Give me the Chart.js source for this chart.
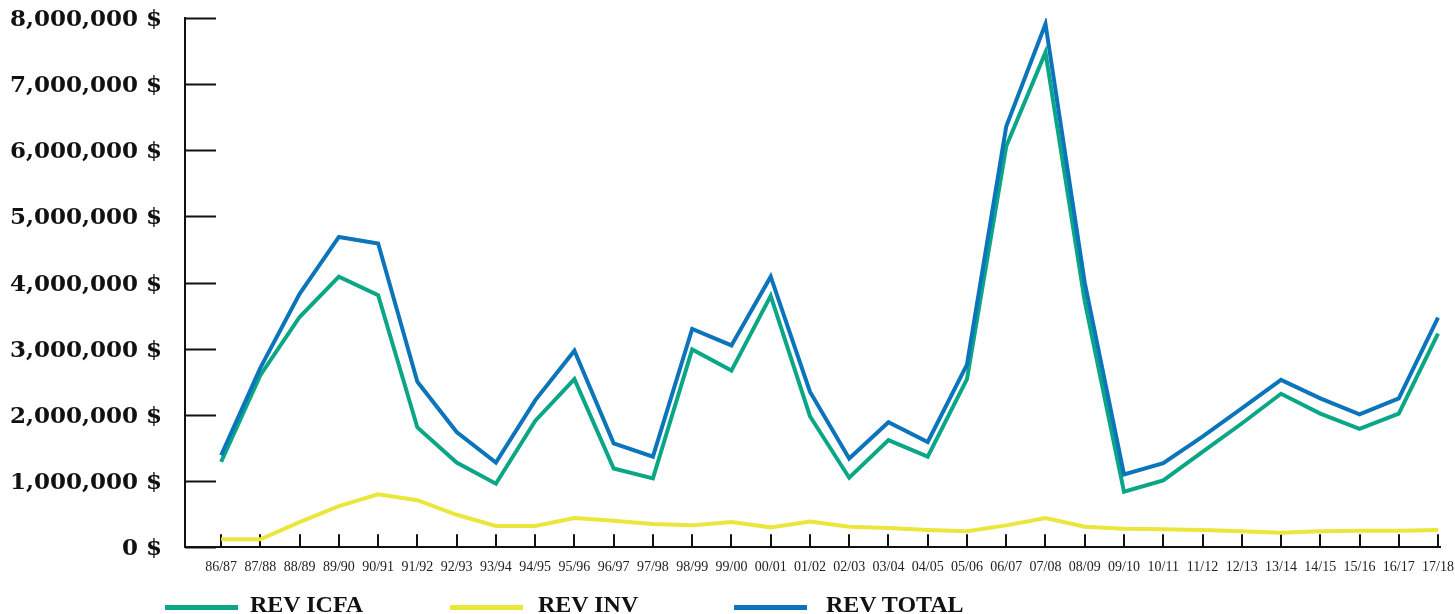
<!DOCTYPE html>
<html>
<head>
<meta charset="utf-8">
<script src="https://cdn.jsdelivr.net/npm/chart.js@4.4.1/dist/chart.umd.min.js"></script>
<style>
    html, body { margin: 0; padding: 0; background: #fff; }
    #wrap { position: relative; width: 1455px; height: 614px; overflow: hidden; }
    #legend { position: absolute; left: 0; top: 0; width: 1455px; height: 614px; pointer-events: none; }
    .swatch { position: absolute; top: 605px; width: 73px; height: 5px; }
    .label { position: absolute; top: 590px; font: bold 24px "Liberation Serif", serif; color: #111; line-height: 28px; white-space: nowrap; }
</style>
</head>
<body>
<div id="wrap">
    <canvas id="chart" width="1455" height="614"></canvas>
    <div id="legend"></div>
</div>
<script>
const seasons = ['86/87', '87/88', '88/89', '89/90', '90/91', '91/92', '92/93', '93/94', '94/95', '95/96',
    '96/97', '97/98', '98/99', '99/00', '00/01', '01/02', '02/03', '03/04', '04/05', '05/06',
    '06/07', '07/08', '08/09', '09/10', '10/11', '11/12', '12/13', '13/14', '14/15', '15/16',
    '16/17', '17/18'];

const revIcfa = [1290000, 2600000, 3480000, 4090000, 3810000, 1810000, 1280000, 960000, 1910000, 2540000,
    1190000, 1040000, 2990000, 2670000, 3800000, 1980000, 1050000, 1620000, 1370000, 2540000,
    6060000, 7480000, 3720000, 840000, 1010000, 1440000, 1870000, 2320000, 2020000, 1790000,
    2020000, 3230000];

const revInv = [120000, 120000, 380000, 620000, 800000, 710000, 490000, 320000, 320000, 440000,
    400000, 350000, 330000, 380000, 300000, 390000, 310000, 290000, 260000, 240000,
    330000, 440000, 310000, 280000, 270000, 260000, 240000, 220000, 240000, 250000,
    250000, 260000];

const revTotal = [1390000, 2710000, 3830000, 4690000, 4590000, 2500000, 1740000, 1280000, 2220000, 2970000,
    1570000, 1370000, 3300000, 3050000, 4090000, 2350000, 1340000, 1890000, 1590000, 2760000,
    6360000, 7910000, 4000000, 1100000, 1270000, 1670000, 2100000, 2530000, 2250000, 2010000,
    2250000, 3470000];

const seriesNames = ['REV ICFA', 'REV INV', 'REV TOTAL'];
const seriesColors = ['#0aa686', '#ebe63c', '#0b74ba'];

const yTicks = [0, 1000000, 2000000, 3000000, 4000000, 5000000, 6000000, 7000000, 8000000];

// x/y pairs so the first season can sit a bit in from the y axis
const toPoints = arr => arr.map((v, i) => ({ x: i, y: v }));

const fmtMoney = v => String(v).replace(/\B(?=(\d{3})+(?!\d))/g, ',') + ' $';

// short tick marks drawn inside the plot, like the original
const innerTicks = {
    id: 'innerTicks',
    beforeDatasetsDraw(chart) {
        const { ctx, chartArea, scales: { x, y } } = chart;
        ctx.save();
        ctx.strokeStyle = '#111';
        ctx.lineWidth = 2;
        ctx.beginPath();
        yTicks.forEach(v => {
            const py = Math.round(y.getPixelForValue(v)) + 0.5;
            ctx.moveTo(chartArea.left, py);
            ctx.lineTo(chartArea.left + 31, py);
        });
        seasons.forEach((_, i) => {
            const px = Math.round(x.getPixelForValue(i));
            ctx.moveTo(px, chartArea.bottom);
            ctx.lineTo(px, chartArea.bottom - 13);
        });
        ctx.stroke();
        ctx.restore();
    }
};

const datasets = [revIcfa, revInv, revTotal].map((arr, i) => ({
    label: seriesNames[i],
    data: toPoints(arr),
    borderColor: seriesColors[i],
    backgroundColor: seriesColors[i],
    borderWidth: 4,
    pointRadius: 0,
    tension: 0,
    borderJoinStyle: 'miter',
    fill: false,
    order: i === 2 ? 0 : i + 1
}));

new Chart(document.getElementById('chart').getContext('2d'), {
    type: 'line',
    data: { datasets: datasets },
    options: {
        responsive: false,
        animation: false,
        layout: { padding: { left: 10, top: 0, right: 15, bottom: 26 } },
        plugins: {
            legend: { display: false },
            tooltip: { enabled: false }
        },
        scales: {
            x: {
                type: 'linear',
                min: -0.92,
                max: 31.05,
                afterBuildTicks: scale => {
                    scale.ticks = seasons.map((_, i) => ({ value: i }));
                },
                afterFit: scale => {
                    scale.paddingRight = 0;
                },
                ticks: {
                    autoSkip: false,
                    maxRotation: 0,
                    padding: 12,
                    color: '#222',
                    font: { family: 'Liberation Serif', size: 14 },
                    callback: v => seasons[v]
                },
                grid: { display: false, drawTicks: false, tickLength: 0 },
                border: { display: true, color: '#111', width: 2 }
            },
            y: {
                min: 0,
                max: 8000000,
                afterBuildTicks: scale => {
                    scale.ticks = yTicks.map(v => ({ value: v }));
                },
                afterFit: scale => {
                    scale.width = 175;
                    scale.paddingTop = 18;
                    scale.paddingBottom = 0;
                },
                ticks: {
                    padding: 23,
                    labelOffset: 2,
                    color: '#111',
                    font: { family: 'DejaVu Serif', size: 23, weight: 'bold' },
                    callback: v => fmtMoney(v)
                },
                grid: { display: false, drawTicks: false, tickLength: 0 },
                border: { display: true, color: '#111', width: 2 }
            }
        }
    },
    plugins: [innerTicks]
});

// legend below the axis
const legend = document.getElementById('legend');
const legendLeft = [165, 450, 734];
const labelLeft = [250, 538, 826];
seriesNames.forEach((name, i) => {
    const sw = document.createElement('div');
    sw.className = 'swatch';
    sw.style.left = legendLeft[i] + 'px';
    sw.style.background = seriesColors[i];
    legend.appendChild(sw);
    const lb = document.createElement('div');
    lb.className = 'label';
    lb.style.left = labelLeft[i] + 'px';
    lb.textContent = name;
    legend.appendChild(lb);
});
</script>
</body>
</html>
